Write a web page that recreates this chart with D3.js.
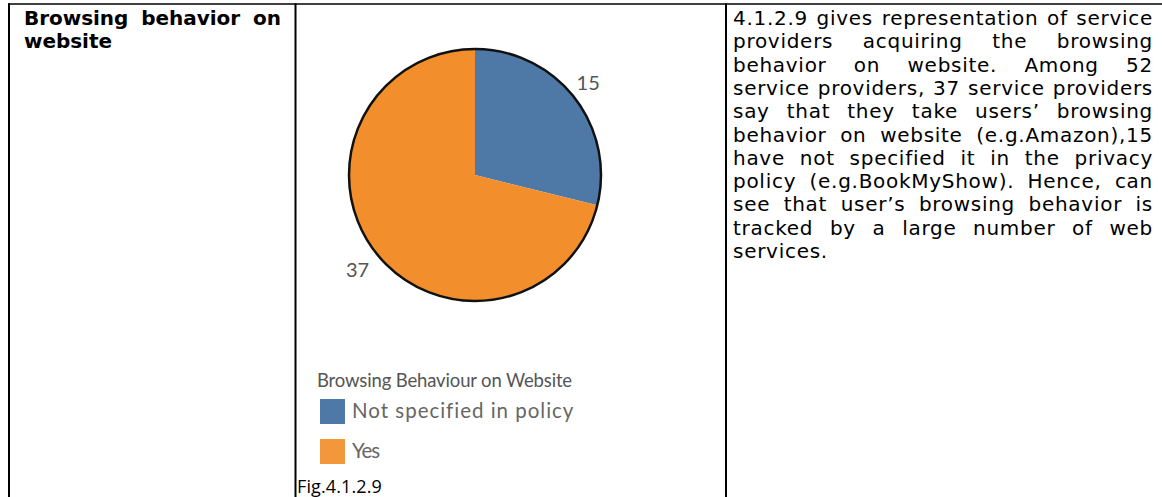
<!DOCTYPE html>
<html><head><meta charset="utf-8">
<script src="https://cdn.jsdelivr.net/npm/d3@7"></script>
<style>body{margin:0;background:#fff}svg{display:block}</style>
</head><body>
<script>
const categories = ["Not specified in policy", "Yes"];
const values = [15, 37];
const sliceColors = ["#4e79a7", "#f28e2b"];
const legendTitle = "Browsing Behaviour on Website";
const figCaption = "Fig.4.1.2.9";
const rowHeading = ["Browsing behavior on", "website"];
const descriptionLines = [
  "4.1.2.9 gives representation of service",
  "providers acquiring the browsing",
  "behavior on website. Among 52",
  "service providers, 37 service providers",
  "say that they take users\u2019 browsing",
  "behavior on website (e.g.Amazon),15",
  "have not specified it in the privacy",
  "policy (e.g.BookMyShow). Hence, can",
  "see that user\u2019s browsing behavior is",
  "tracked by a large number of web",
  "services."
];

const W = 1162, H = 497;
const svg = d3.select("body").append("svg").attr("width", W).attr("height", H);
const bodyFont = "'DejaVu Sans', 'Open Sans', sans-serif";
const legFont = "Lato, 'Open Sans', sans-serif";

// table lines
svg.append("line").attr("x1", 8).attr("x2", W).attr("y1", 4).attr("y2", 4).attr("stroke", "#000").attr("stroke-width", 1.5);
[9, 295.5, 726].forEach(x => svg.append("line").attr("x1", x).attr("x2", x).attr("y1", 3.3).attr("y2", H).attr("stroke", "#000").attr("stroke-width", 2));

function textWidth(str, family, size, weight, ls) {
  const t = svg.append("text").attr("font-family", family).attr("font-size", size)
    .attr("font-weight", weight || "normal").attr("letter-spacing", ls || 0).text(str);
  const w = t.node().getComputedTextLength();
  t.remove();
  return w;
}

// body font size: tightest description line fills the column (capped to the line pitch)
const x0 = 733, x1 = 1153, pitch = 23.3;
let bodySize = d3.min(descriptionLines.slice(0, -1), l => (x1 - x0 - 4) / textWidth(l, bodyFont, 100) * 100);
bodySize = Math.min(bodySize, 20);
const ls = d3.min(descriptionLines.slice(0, -1), l => (x1 - x0 - 4 - textWidth(l, bodyFont, bodySize)) / l.length);

function justify(g, lines, xa, xb, y0, dy, size, weight, lsp) {
  lines.forEach((line, i) => {
    const words = line.split(" ");
    const y = y0 + i * dy;
    const tmp = words.map(w => {
      const t = g.append("text").attr("font-family", bodyFont).attr("font-size", size)
        .attr("font-weight", weight).attr("letter-spacing", lsp).attr("fill", "#000").text(w);
      return [t, t.node().getComputedTextLength()];
    });
    const total = d3.sum(tmp, d => d[1]);
    const isLast = i === lines.length - 1;
    const gap = (isLast || words.length < 2) ? size * 0.3 : (xb - xa - total) / (words.length - 1);
    let x = xa;
    tmp.forEach(([t, w]) => { t.attr("x", x).attr("y", y); x += w + gap; });
  });
}

justify(svg.append("g"), descriptionLines, x0, x1, 25, pitch, bodySize, "normal", ls);
// heading: bold, leave ~12px gaps on the justified first line
const headNat = textWidth(rowHeading[0].replace(/ /g, ""), bodyFont, bodySize, "bold");
const headLs = Math.min(0, (281 - 24 - 26 - headNat) / rowHeading[0].replace(/ /g, "").length);
justify(svg.append("g"), rowHeading, 24, 281, 25, pitch, bodySize, "bold", headLs);

// pie
const cx = 475, cy = 175, r = 126;
const pie = d3.pie().sort(null).value(d => d)(values);
const arc = d3.arc().innerRadius(0).outerRadius(r);
const pg = svg.append("g").attr("transform", `translate(${cx},${cy})`);
pg.selectAll("path").data(pie).join("path").attr("d", arc).attr("fill", (d, i) => sliceColors[i]);
pg.append("circle").attr("r", r).attr("fill", "none").attr("stroke", "#111").attr("stroke-width", 2.5);

// value labels outside the rim
const labelOffset = [0.887, 2.22];   // radians past each slice's start angle
const labelRadius = [146, 151];
pg.selectAll("text.lab").data(pie).join("text").attr("class", "lab")
  .attr("transform", (d, i) => {
    const a = d.startAngle + labelOffset[i];
    return `translate(${Math.sin(a) * labelRadius[i]},${-Math.cos(a) * labelRadius[i]})`;
  })
  .attr("dy", "0.35em")
  .attr("text-anchor", "middle").attr("font-family", legFont).attr("font-size", 20).attr("fill", "#555")
  .text(d => d.data);

// legend
function fitSpacing(sel, str, family, size, targetW) {
  const nat = textWidth(str, family, size);
  sel.attr("font-size", size).attr("letter-spacing", (targetW - nat) / str.length);
}
const lg = svg.append("g");
lg.append("text").attr("x", 317).attr("y", 387).attr("font-family", legFont).attr("fill", "#555").text(legendTitle)
  .call(s => fitSpacing(s, legendTitle, legFont, 18.5, 255));
const itemW = [222, 27];
categories.forEach((c, i) => {
  const y = 399 + i * 40;
  lg.append("rect").attr("x", 320).attr("y", y).attr("width", 25).attr("height", 25).attr("fill", sliceColors[i]).attr("opacity", i === 1 ? 0.92 : 1);
  lg.append("text").attr("x", 352).attr("y", y + 19).attr("font-family", legFont).attr("fill", "#666").text(c)
    .call(s => fitSpacing(s, c, legFont, 20.5, itemW[i]));
});
svg.append("text").attr("x", 297).attr("y", 493).attr("font-family", "'Open Sans', sans-serif").attr("fill", "#000").text(figCaption)
  .call(s => fitSpacing(s, figCaption, "'Open Sans', sans-serif", 18, 85));
</script>
</body></html>
